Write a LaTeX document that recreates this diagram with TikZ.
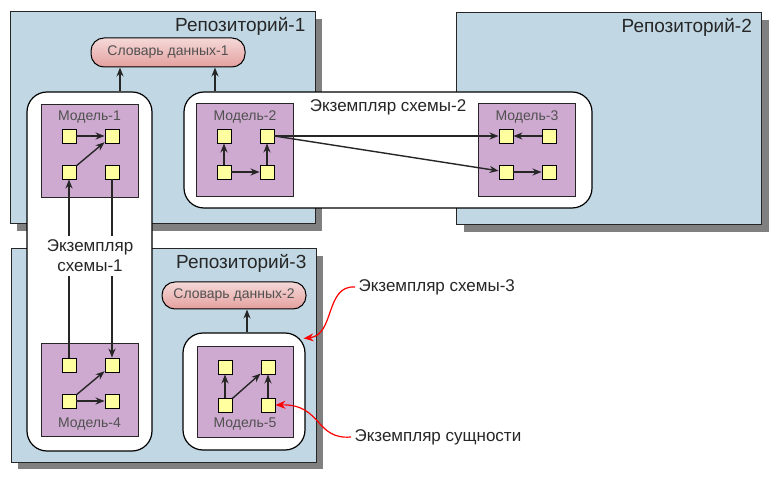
\documentclass[tikz,border=0pt]{standalone}
\usepackage{fontspec}
\setmainfont{Liberation Sans}
\usepackage{tikz}
\usetikzlibrary{arrows.meta}
\usetikzlibrary{shadows}
\usepackage{xcolor}
\definecolor{ColRepo}{RGB}{193,216,228}
\definecolor{ColModel}{RGB}{206,170,208}
\definecolor{ColEntity}{RGB}{255,255,160}
\definecolor{ColDict}{RGB}{228,160,158}
\definecolor{ColText}{RGB}{80,80,80}
\tikzstyle{Repo}=[draw=black!85,fill=ColRepo,line width=1pt,minimum width=305pt,minimum height=212pt,
drop shadow={shadow xshift=7pt,shadow yshift=-7pt,opacity=1,fill=black!50}]
\tikzstyle{RepoLabel}=[anchor=north east,inner sep=2pt,font=\fontsize{19}{22}\selectfont,text=black!85]
\tikzstyle{Schema}=[draw=black,fill=white,rounded corners=20pt,line width=1.2pt]
\tikzstyle{SchemaLabel}=[font=\fontsize{17}{20}\selectfont,text=black!85]
\tikzstyle{Model}=[draw=black!85,fill=ColModel,line width=1pt,minimum width=97pt,minimum height=93pt]
\tikzstyle{ModelLabel}=[text=ColText,font=\fontsize{14}{16}\selectfont]
\tikzstyle{Entity}=[draw=black,fill=ColEntity,minimum size=14pt,inner sep=0pt,line width=0.9pt]
\tikzstyle{Dict}=[draw=black,rounded corners=13pt,top color=ColDict!40,bottom color=ColDict,line width=1pt,
text=ColText,font=\fontsize{14}{16}\selectfont]
\tikzstyle{Link}=[-{Stealth[length=9pt,width=7pt]},line width=1.4pt,black!85]
\tikzstyle{Note}=[-{Stealth[length=10pt,width=8pt]},red,line width=1.2pt]

\begin{document}
\begin{tikzpicture}[x=1pt,y=-1pt]
        \useasboundingbox(0,0)rectangle(780,481);
        \node[Repo](r1)at(162.5,118){};
        \node[Repo](r2)at(609,119){};
        \node[Repo,minimum height=213pt](r3)at(163.5,355.5){};
        \node[RepoLabel](r1l)at([xshift=-8pt,yshift=-4pt]r1.north east){Репозиторий-1};
        \node[RepoLabel](r2l)at([xshift=-8pt,yshift=-4pt]r2.north east){Репозиторий-2};
        \node[RepoLabel](r3l)at([xshift=-8pt,yshift=-4pt]r3.north east){Репозиторий-3};
        \node[Dict,minimum width=154pt,minimum height=29pt](d1)at(168,52.5){Словарь данных-1};
        \node[Dict,minimum width=144pt,minimum height=27pt](d2)at(234,295.5){Словарь данных-2};
        \node[Schema,minimum width=125pt,minimum height=359pt](s1)at(89.5,271.5){};
        \node[Schema,minimum width=408pt,minimum height=116pt](s2)at(388,150){};
        \node[Schema,minimum width=122pt,minimum height=117pt](s3)at(244,391.5){};
        \node[SchemaLabel](s2l)at(388,107){Экземпляр схемы-2};
        \node[Model](m1)at(89.5,151){};
        \node[Model](m2)at(245,150.5){};
        \node[Model](m3)at(527,150.5){};
        \node[Model](m4)at(89.5,390){};
        \node[Model,minimum width=96pt,minimum height=90pt](m5)at(245,392){};
        \node[ModelLabel](m1l)at(89.5,117){Модель-1};
        \node[ModelLabel](m2l)at(245,117){Модель-2};
        \node[ModelLabel](m3l)at(527,117){Модель-3};
        \node[ModelLabel](m4l)at(89.5,424){Модель-4};
        \node[ModelLabel](m5l)at(245,424){Модель-5};
        \node[Entity](m1a)at(69,136){};
        \node[Entity](m1b)at(112,136){};
        \node[Entity](m1c)at(69,172){};
        \node[Entity](m1d)at(112,172){};
        \node[Entity](m2a)at(224,136){};
        \node[Entity](m2b)at(267,136){};
        \node[Entity](m2c)at(224,172){};
        \node[Entity](m2d)at(267,172){};
        \node[Entity](m3a)at(506,136){};
        \node[Entity](m3b)at(549,136){};
        \node[Entity](m3c)at(506,172){};
        \node[Entity](m3d)at(549,172){};
        \node[Entity](m4a)at(69,365){};
        \node[Entity](m4b)at(112,365){};
        \node[Entity](m4c)at(69,401){};
        \node[Entity](m4d)at(112,401){};
        \node[Entity](m5a)at(225,367){};
        \node[Entity](m5b)at(268,367){};
        \node[Entity](m5c)at(225,405){};
        \node[Entity](m5d)at(268,405){};
        \draw[Link]([xshift=30.5pt]s1.north)--([xshift=-48pt]d1.south);
        \draw[Link]([xshift=-173pt]s2.north)--([xshift=47pt]d1.south);
        \draw[Link]([xshift=3pt]s3.north)--([xshift=13pt]d2.south);
        \draw[Link](m1a)--(m1b);
        \draw[Link](m1c)--(m1b);
        \draw[Link](m2c)--(m2a);
        \draw[Link](m2d)--(m2b);
        \draw[Link](m2c)--(m2d);
        \draw[Link](m3b)--(m3a);
        \draw[Link](m3c)--(m3d);
        \draw[Link](m2b)--(m3a);
        \draw[Link](m2b.east)--(m3c);
        \draw[Link](m4c)--(m4b);
        \draw[Link](m4c)--(m4d);
        \draw[Link](m5c)--(m5a);
        \draw[Link](m5c)--(m5b);
        \draw[Link](m5d)--(m5b);
        \draw[Link](m4a)--(m1c);
        \draw[Link](m1d)--(m4b);
        \node[SchemaLabel,fill=white,align=center,inner sep=4pt](s1l)at(90,256){Экземпляр\\схемы-1};
        \node[SchemaLabel,anchor=west](n1)at(355,287){Экземпляр схемы-3};
        \node[SchemaLabel,anchor=west](n2)at(351,437){Экземпляр сущности};
        \draw[Note](n1.west)..controls(325,285)and(335,335)..([xshift=-2pt,yshift=-6pt]s3.north east);
        \draw[Note](n2.west)..controls(315,440)and(322,404)..(m5d.east);
    \end{tikzpicture}
\end{document}
